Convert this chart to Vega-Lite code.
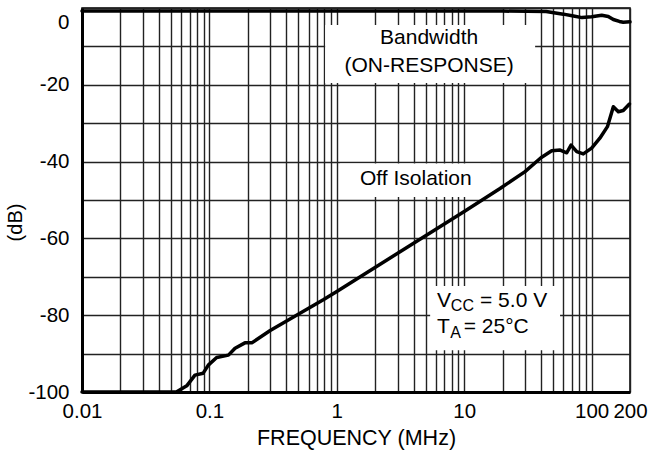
{
  "$schema": "https://vega.github.io/schema/vega-lite/v6.json",
  "width": 548,
  "height": 384,
  "autosize": {"type": "none"},
  "padding": {"left": 82, "top": 8, "right": 20, "bottom": 66},
  "background": "white",
  "config": {
    "view": {"stroke": "#000", "strokeWidth": 1.5},
    "font": "Liberation Sans"
  },
  "datasets": {
    "curves": [
      {"series": "bw", "x": 0.01, "y": -0.8},
      {"series": "bw", "x": 20, "y": -0.8},
      {"series": "bw", "x": 44, "y": -0.9},
      {"series": "bw", "x": 52, "y": -1.3},
      {"series": "bw", "x": 60, "y": -1.6},
      {"series": "bw", "x": 72, "y": -2.1},
      {"series": "bw", "x": 84, "y": -2.5},
      {"series": "bw", "x": 100, "y": -2.3},
      {"series": "bw", "x": 120, "y": -1.9},
      {"series": "bw", "x": 135, "y": -2.2},
      {"series": "bw", "x": 148, "y": -3.0},
      {"series": "bw", "x": 165, "y": -3.5},
      {"series": "bw", "x": 177, "y": -3.7},
      {"series": "bw", "x": 200, "y": -3.6},
      {"series": "off", "x": 0.01, "y": -100},
      {"series": "off", "x": 0.055, "y": -100},
      {"series": "off", "x": 0.0664, "y": -98.4},
      {"series": "off", "x": 0.077, "y": -95.6},
      {"series": "off", "x": 0.0894, "y": -95.1},
      {"series": "off", "x": 0.098, "y": -93},
      {"series": "off", "x": 0.114, "y": -91},
      {"series": "off", "x": 0.141, "y": -90.4},
      {"series": "off", "x": 0.159, "y": -88.6},
      {"series": "off", "x": 0.19, "y": -87.2},
      {"series": "off", "x": 0.215, "y": -87.2},
      {"series": "off", "x": 0.3, "y": -84},
      {"series": "off", "x": 0.783, "y": -76},
      {"series": "off", "x": 1, "y": -73.8},
      {"series": "off", "x": 10, "y": -53},
      {"series": "off", "x": 19.1, "y": -47},
      {"series": "off", "x": 30, "y": -42.6},
      {"series": "off", "x": 40, "y": -39},
      {"series": "off", "x": 48.6, "y": -37.2},
      {"series": "off", "x": 56.6, "y": -37},
      {"series": "off", "x": 63.8, "y": -37.7},
      {"series": "off", "x": 68.9, "y": -35.7},
      {"series": "off", "x": 76.4, "y": -37.4},
      {"series": "off", "x": 86, "y": -38},
      {"series": "off", "x": 100, "y": -36.5},
      {"series": "off", "x": 116, "y": -33.9},
      {"series": "off", "x": 133, "y": -30.9},
      {"series": "off", "x": 148, "y": -25.7},
      {"series": "off", "x": 162, "y": -27},
      {"series": "off", "x": 177, "y": -26.7},
      {"series": "off", "x": 198, "y": -25}
    ],
    "boxes": [
      {"x": 0.81, "x2": 36, "y": -4.4, "y2": -19.5},
      {"x": 1.06, "x2": 16, "y": -40.5, "y2": -49.2},
      {"x": 5.4, "x2": 56.5, "y": -72.4, "y2": -89.1}
    ],
    "labels": [
      {"kind": "center", "text": "Bandwidth", "x": 5.3, "y": -7.9},
      {"kind": "center", "text": "(ON-RESPONSE)", "x": 5.3, "y": -15},
      {"kind": "center", "text": "Off Isolation", "x": 4.17, "y": -44.5},
      {"kind": "left", "text": "V", "x": 6.12, "y": -76.2},
      {"kind": "sub", "text": "CC", "x": 7.85, "y": -77.6},
      {"kind": "left", "text": "= 5.0 V", "x": 13.3, "y": -76.2},
      {"kind": "left", "text": "T", "x": 6.12, "y": -83.2},
      {"kind": "sub", "text": "A", "x": 7.75, "y": -84.6},
      {"kind": "left", "text": "= 25°C", "x": 9.9, "y": -83.2}
    ]
  },
  "encoding": {
    "x": {
      "field": "x",
      "type": "quantitative",
      "scale": {"type": "log", "domain": [0.01, 200], "nice": false},
      "axis": {
        "title": "FREQUENCY (MHz)",
        "values": [0.01, 0.02, 0.03, 0.04, 0.05, 0.06, 0.07, 0.08, 0.09, 0.1, 0.2, 0.3, 0.4, 0.5, 0.6, 0.7, 0.8, 0.9, 1, 2, 3, 4, 5, 6, 7, 8, 9, 10, 20, 30, 40, 50, 60, 70, 80, 90, 100, 200],
        "labelExpr": "indexof([0.01, 0.1, 1, 10, 100, 200], datum.value) >= 0 ? '' + datum.value : ''",
        "grid": true,
        "gridColor": "#222",
        "gridWidth": 1.4,
        "ticks": false,
        "domainColor": "#000",
        "domainWidth": 3,
        "labelFontSize": 20.5,
        "labelColor": "#000",
        "labelPadding": 9,
        "labelFlush": false,
        "labelOverlap": false,
        "titleFontSize": 21.5,
        "titleFontWeight": "normal",
        "titleColor": "#000",
        "titlePadding": 6
      }
    },
    "y": {
      "field": "y",
      "type": "quantitative",
      "scale": {"domain": [-100, 0], "nice": false, "zero": false},
      "axis": {
        "title": "(dB)",
        "values": [-100, -90, -80, -70, -60, -50, -40, -30, -20, -10, 0],
        "labelExpr": "datum.value % 20 == 0 ? '' + datum.value : ''",
        "grid": true,
        "gridColor": "#222",
        "gridWidth": 1.4,
        "ticks": false,
        "domainColor": "#000",
        "domainWidth": 3,
        "labelFontSize": 20.5,
        "labelColor": "#000",
        "labelPadding": 13,
        "labelFlush": false,
        "labelOverlap": false,
        "labelBaseline": {"condition": {"test": "datum.value == 0", "value": "top"}, "value": "middle"},
        "labelOffset": {"condition": {"test": "datum.value == 0", "value": 4}, "value": 0},
        "titleFontSize": 20,
        "titleFontWeight": "normal",
        "titleColor": "#000",
        "titlePadding": 2,
        "titleY": 214
      }
    }
  },
  "layer": [
    {
      "data": {"name": "boxes"},
      "mark": {"type": "rect", "fill": "white", "stroke": null},
      "encoding": {"x2": {"field": "x2"}, "y2": {"field": "y2"}}
    },
    {
      "data": {"name": "curves"},
      "mark": {"type": "line", "color": "#000", "strokeWidth": 3.5, "strokeJoin": "round", "strokeCap": "round"},
      "encoding": {"detail": {"field": "series", "type": "nominal"}}
    },
    {
      "data": {"name": "labels"},
      "transform": [{"filter": "datum.kind == 'center'"}],
      "mark": {"type": "text", "fontSize": 21, "align": "center", "baseline": "middle", "color": "#000"},
      "encoding": {"text": {"field": "text"}}
    },
    {
      "data": {"name": "labels"},
      "transform": [{"filter": "datum.kind == 'left'"}],
      "mark": {"type": "text", "fontSize": 21, "align": "left", "baseline": "middle", "color": "#000"},
      "encoding": {"text": {"field": "text"}}
    },
    {
      "data": {"name": "labels"},
      "transform": [{"filter": "datum.kind == 'sub'"}],
      "mark": {"type": "text", "fontSize": 16, "align": "left", "baseline": "middle", "color": "#000"},
      "encoding": {"text": {"field": "text"}}
    }
  ]
}
